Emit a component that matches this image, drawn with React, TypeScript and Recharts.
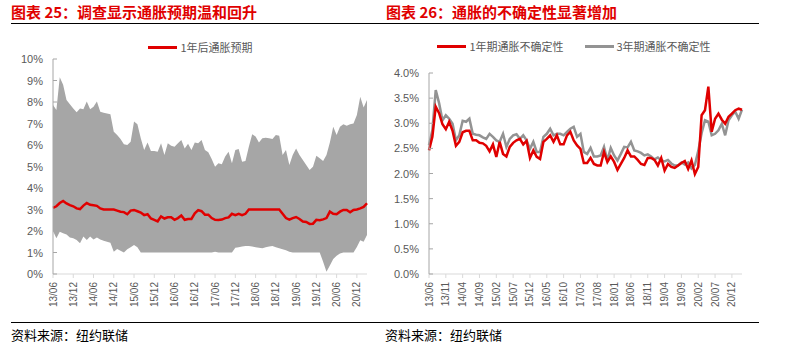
import React from 'react';
import { ComposedChart, LineChart, Area, Line, XAxis, YAxis } from 'recharts';

// monthly survey data, 2013/06 - 2021/03
const START_YEAR = 2013;
const START_MONTH = 6;
const MONTH_COUNT = 94;

const buildMonths = (y0: number, m0: number, n: number) => {
  const out: string[] = [];
  for (let i = 0; i < n; i++) {
    const m = m0 - 1 + i;
    const yy = (y0 + Math.floor(m / 12)) % 100;
    const mm = (m % 12) + 1;
    out.push(`${String(yy).padStart(2, '0')}/${String(mm).padStart(2, '0')}`);
  }
  return out;
};
const months = buildMonths(START_YEAR, START_MONTH, MONTH_COUNT);

// 图表25: 1年后通胀预期 (median) with the gray band
const bandHigh = [
  7.86, 7.63, 9.15, 8.8, 8.09, 7.89, 7.7, 7.52, 7.7, 7.66,
  8.02, 7.66, 7.78, 8.02, 7.55, 7.5, 7.47, 7.43, 6.62, 6.47,
  6.28, 6.03, 6.0, 6.15, 7.09, 6.96, 6.31, 5.77, 6.12, 5.72,
  5.72, 5.69, 6.08, 5.53, 6.08, 5.97, 5.92, 6.08, 6.23, 5.84,
  6.06, 5.77, 6.12, 6.08, 6.23, 5.77, 5.66, 5.35, 4.99, 5.15,
  5.1, 5.46, 5.69, 5.15, 5.77, 5.81, 5.22, 5.26, 5.92, 6.5,
  6.39, 6.12, 6.31, 6.34, 6.31, 6.28, 6.47, 6.43, 5.53, 5.77,
  5.07, 5.53, 5.84, 5.53, 5.3, 5.07, 4.84, 4.99, 5.5, 5.38,
  5.26, 5.53, 6.12, 6.85, 6.47, 6.85, 6.96, 6.9, 6.96, 7.0,
  7.4, 8.25, 7.74, 8.09,
];
const bandLow = [
  2.0, 1.66, 1.97, 1.9, 1.84, 1.7, 1.66, 1.58, 1.43, 1.74,
  1.58, 1.74, 1.6, 1.7, 1.6, 1.55, 1.5, 1.45, 1.04, 1.16,
  1.08, 1.0, 1.15, 1.25, 1.35, 1.25, 1.0, 1.0, 1.0, 1.0,
  1.0, 1.0, 1.0, 1.0, 1.0, 1.0, 1.0, 1.0, 1.0, 1.0,
  1.0, 1.0, 1.0, 1.0, 1.0, 1.0, 1.0, 1.0, 1.03, 1.0,
  1.0, 1.0, 1.0, 1.0, 1.22, 1.25, 1.28, 1.3, 1.3, 1.28,
  1.25, 1.22, 1.2, 1.25, 1.28, 1.3, 1.25, 1.2, 1.15, 1.1,
  1.04, 1.0, 1.0, 1.0, 1.0, 1.0, 1.0, 1.0, 1.0, 1.0,
  0.57, 0.1, 0.4, 0.7, 0.85, 0.95, 1.0, 1.0, 1.0, 1.0,
  1.26, 1.57, 1.5, 1.81,
];
const median1y = [
  3.08, 3.15, 3.3, 3.4, 3.28, 3.2, 3.15, 3.05, 3.02, 3.18,
  3.3, 3.22, 3.2, 3.17, 3.05, 3.0, 3.0, 3.0, 3.0, 2.95,
  2.9, 2.88, 2.78, 2.95, 2.98, 2.92, 2.86, 2.74, 2.78, 2.58,
  2.52, 2.45, 2.68, 2.58, 2.64, 2.64, 2.52, 2.6, 2.72, 2.52,
  2.56, 2.56, 2.82, 2.97, 2.92, 2.76, 2.76, 2.6, 2.52, 2.51,
  2.53, 2.6, 2.63, 2.8, 2.74, 2.8, 2.74, 2.8, 3.0, 3.0,
  3.0, 3.0, 3.0, 3.0, 3.0, 3.0, 3.0, 3.0, 2.8, 2.6,
  2.53, 2.6, 2.65, 2.56, 2.44, 2.42, 2.33, 2.34, 2.52, 2.5,
  2.54, 2.6, 2.9, 2.8, 2.78, 2.9, 2.98, 2.98, 2.87, 2.98,
  3.0, 3.05, 3.12, 3.29,
];

// 图表26: 通胀不确定性
const uncert1y = [
  2.46, 2.73, 3.33, 3.2, 2.98, 2.88, 3.03, 2.85, 2.55, 2.63,
  2.82, 2.85, 2.85, 2.66, 2.66, 2.61, 2.6, 2.55, 2.44, 2.58,
  2.33, 2.63, 2.39, 2.34, 2.53, 2.61, 2.66, 2.69, 2.58, 2.65,
  2.31, 2.46, 2.33, 2.29, 2.63, 2.69, 2.76, 2.63, 2.76, 2.58,
  2.58, 2.76, 2.83, 2.66, 2.56, 2.49, 2.21, 2.21, 2.31, 2.19,
  2.16, 2.16, 2.43, 2.23, 2.34, 2.23, 2.07, 2.19, 2.31, 2.46,
  2.34, 2.34, 2.27, 2.19, 2.17, 2.31, 2.31, 2.27, 2.16, 2.31,
  2.06, 2.19, 2.13, 2.11, 2.16, 2.21, 2.25, 2.09, 2.26, 1.99,
  2.13, 3.16, 3.26, 3.73, 2.83, 3.09, 3.19, 3.07, 2.99, 3.13,
  3.19, 3.26, 3.29, 3.27,
];
const uncert3y = [
  2.56, 2.86, 3.66, 3.4, 3.06, 3.16, 3.09, 2.99, 2.66, 2.76,
  3.05, 3.03, 3.09, 2.79, 2.77, 2.76, 2.72, 2.69, 2.79, 2.73,
  2.66, 2.63, 2.79, 2.53, 2.69, 2.76, 2.78, 2.69, 2.76, 2.66,
  2.49, 2.63, 2.43, 2.43, 2.73, 2.79, 2.89, 2.76, 2.79, 2.79,
  2.76, 2.83, 2.89, 2.93, 2.73, 2.79, 2.43, 2.39, 2.51, 2.34,
  2.34, 2.36, 2.53, 2.26, 2.51, 2.36, 2.26, 2.39, 2.53, 2.52,
  2.63, 2.46, 2.44, 2.41, 2.36, 2.38, 2.34, 2.28, 2.32, 2.26,
  2.24, 2.27, 2.2, 2.16, 2.16, 2.22, 2.18, 2.22, 2.1, 2.17,
  2.45, 2.8, 3.06, 3.03, 2.76, 2.79, 2.86, 2.99, 2.76, 3.06,
  3.16, 3.23, 3.09, 3.27,
];

const leftTicks = [0, 1, 2, 3, 4, 5, 6, 7, 8, 9, 10];
const rightTicks = [0, 0.5, 1, 1.5, 2, 2.5, 3, 3.5, 4];

const RED = '#e00000';
const GRAY_BAND = '#a6a6a6';
const GRAY_LINE = '#939393';
const TXT = '#595959';
const FONT = '"Liberation Sans", Arial, "Noto Sans CJK SC", sans-serif';
const CJK = '"Noto Sans CJK SC", sans-serif';

const leftData = months.map((m, i) => ({
  month: m,
  band: [bandLow[i], bandHigh[i]],
  median: median1y[i],
}));

const rightData = months.map((m, i) => ({
  month: m,
  u1: uncert1y[i],
  u3: uncert3y[i],
}));

const XTick = (props: any) => {
  const { x, y, payload } = props;
  return (
    <text x={x} y={y} transform={`rotate(-90 ${x} ${y})`} textAnchor="end"
      dominantBaseline="central" fontSize={10} fill={TXT} fontFamily={FONT}>
      {payload.value}
    </text>
  );
};

const makeYTick = (fmt: (v: number) => string) => (props: any) => {
  const { x, y, payload } = props;
  return (
    <g>
      <line x1={x + 10} x2={x + 14} y1={y} y2={y} stroke="#a6a6a6" />
      <text x={x} y={y} textAnchor="end" dominantBaseline="central"
        fontSize={11} fill={TXT} fontFamily={FONT}>
        {fmt(payload.value)}
      </text>
    </g>
  );
};
const LeftYTick = makeYTick(v => `${v}%`);
const RightYTick = makeYTick(v => `${v.toFixed(1)}%`);

const LegendRow = ({ items, left, top, width }: { items: { label: string; color: string }[]; left: number; top: number; width: number }) => (
  <div style={{ position: 'absolute', left, top, width, display: 'flex', justifyContent: 'center', gap: 21, fontFamily: CJK, fontSize: 11, color: TXT, lineHeight: '16px' }}>
    {items.map(it => (
      <div key={it.label} style={{ display: 'flex', alignItems: 'center' }}>
        <span style={{ display: 'inline-block', width: 29, height: 3, background: it.color, marginRight: 3 }} />
        <span>{it.label}</span>
      </div>
    ))}
  </div>
);

const Title = ({ text, left }: { text: string; left: number }) => (
  <div style={{ position: 'absolute', left, top: 2, fontFamily: CJK, fontWeight: 700, fontSize: 15, color: RED, lineHeight: '20px', whiteSpace: 'nowrap' }}>
    {text}
  </div>
);

const Source = ({ left }: { left: number }) => (
  <div style={{ position: 'absolute', left, top: 326, fontFamily: CJK, fontSize: 13, color: '#000', lineHeight: '17px', whiteSpace: 'nowrap' }}>
    资料来源：纽约联储
  </div>
);

export default function App() {
  return (
    <div style={{ position: 'absolute', left: 0, top: 0, width: 786, height: 350, background: '#fff', overflow: 'hidden' }}>
      <Title text="图表 25：调查显示通胀预期温和回升" left={11} />
      <Title text="图表 26：通胀的不确定性显著增加" left={386} />
      <div style={{ position: 'absolute', left: 11, top: 23, width: 748, height: 1, background: '#000' }} />
      <div style={{ position: 'absolute', left: 11, top: 322, width: 748, height: 1, background: '#000' }} />
      <Source left={11} />
      <Source left={385} />

      <LegendRow left={8} top={39} width={385} items={[{ label: '1年后通胀预期', color: RED }]} />
      <LegendRow left={388} top={38} width={372} items={[
        { label: '1年期通胀不确定性', color: RED },
        { label: '3年期通胀不确定性', color: GRAY_LINE },
      ]} />

      <div style={{ position: 'absolute', left: 0, top: 0 }}>
        <ComposedChart width={393} height={350} data={leftData}
          margin={{ top: 59, right: 26, bottom: 36, left: 0 }}>
          <XAxis dataKey="month" interval={5} height={40} tick={<XTick />}
            tickSize={4} tickMargin={4} axisLine={{ stroke: '#d9d9d9' }} tickLine={{ stroke: '#d9d9d9' }} />
          <YAxis width={53} domain={[0, 10]} ticks={leftTicks} interval={0} tick={<LeftYTick />}
            tickSize={0} tickMargin={10} axisLine={{ stroke: '#a6a6a6' }} tickLine={false} />
          <Area type="linear" dataKey="band" stroke="none" fill={GRAY_BAND} fillOpacity={1}
            isAnimationActive={false} legendType="none" activeDot={false} />
          <Line type="linear" dataKey="median" name="1年后通胀预期" stroke={RED} strokeWidth={2.5}
            dot={false} activeDot={false} isAnimationActive={false} />
        </ComposedChart>
      </div>

      <div style={{ position: 'absolute', left: 380, top: 0 }}>
        <LineChart width={406} height={350} data={rightData}
          margin={{ top: 73, right: 44, bottom: 36, left: 0 }}>
          <XAxis dataKey="month" interval={4} height={40} tick={<XTick />}
            tickSize={4} tickMargin={4} axisLine={{ stroke: '#d9d9d9' }} tickLine={{ stroke: '#d9d9d9' }} />
          <YAxis width={49} domain={[0, 4]} ticks={rightTicks} interval={0} tick={<RightYTick />}
            tickSize={0} tickMargin={10} axisLine={{ stroke: '#a6a6a6' }} tickLine={false} />
          <Line type="linear" dataKey="u3" name="3年期通胀不确定性" stroke={GRAY_LINE} strokeWidth={2.5}
            dot={false} activeDot={false} isAnimationActive={false} />
          <Line type="linear" dataKey="u1" name="1年期通胀不确定性" stroke={RED} strokeWidth={2.5}
            dot={false} activeDot={false} isAnimationActive={false} />
        </LineChart>
      </div>
    </div>
  );
}
